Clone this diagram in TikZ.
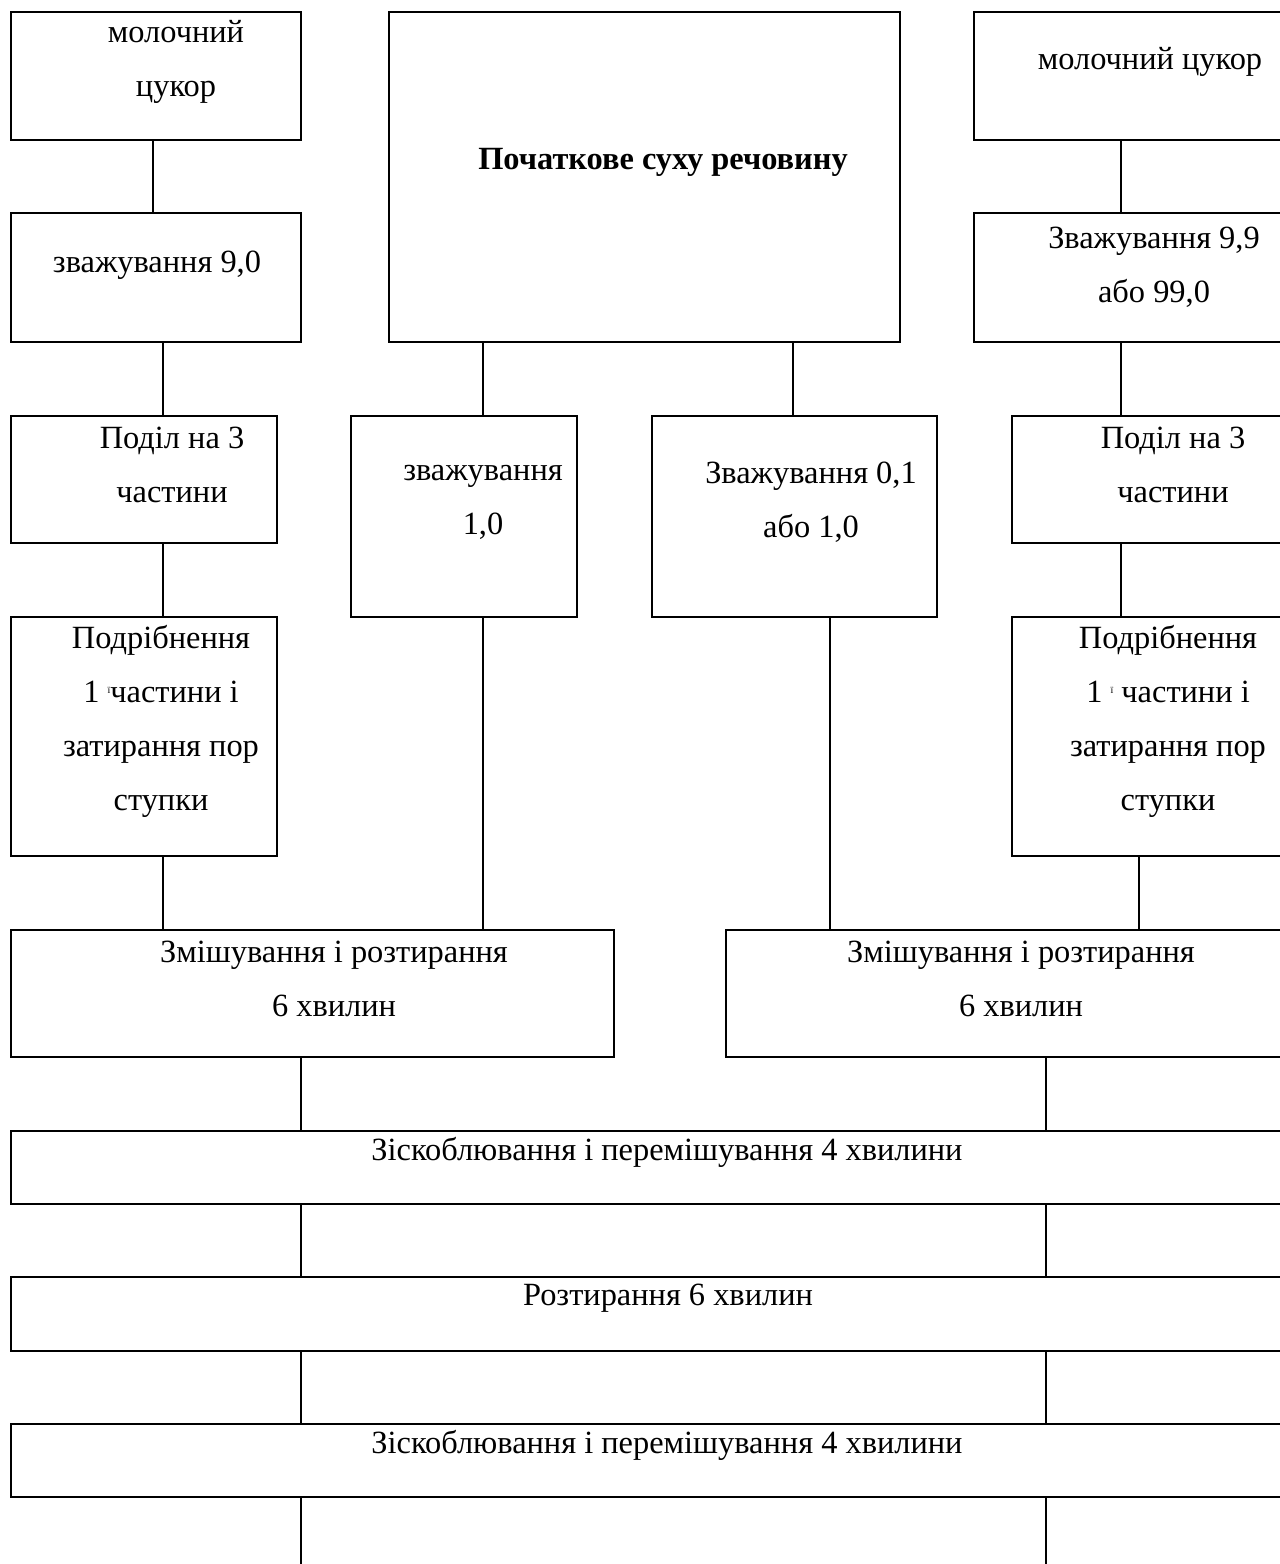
\documentclass[tikz,border=0pt]{standalone}
\usepackage{fontspec}
\setmainfont{Liberation Serif}
\newcommand{\supyi}{\raisebox{9pt}{\fontsize{10}{10}\selectfont ї}}
\begin{document}
\begin{tikzpicture}[x=1pt,y=-1pt,
  box/.style={draw, line width=1.6pt, anchor=north west, inner sep=0pt, outer sep=0pt},
  txt/.style={align=center, inner sep=0pt, font=\fontsize{32.4}{54}\selectfont},
  conn/.style={line width=1.6pt}]
\useasboundingbox (0,0) rectangle (1280,1564);
\clip (0,0) rectangle (1280,1564);
% boxes
\node[box, minimum width=290pt, minimum height=128pt] (A) at (11,12) {};
\node[box, minimum width=290pt, minimum height=129pt] (B) at (11,213) {};
\node[box, minimum width=511pt, minimum height=330pt] (C) at (389,12) {};
\node[box, minimum width=316pt, minimum height=128pt] (D) at (974,12) {};
\node[box, minimum width=316pt, minimum height=129pt] (E) at (974,213) {};
\node[box, minimum width=266pt, minimum height=127pt] (F) at (11,416) {};
\node[box, minimum width=226pt, minimum height=201pt] (G) at (351,416) {};
\node[box, minimum width=285pt, minimum height=201pt] (H) at (652,416) {};
\node[box, minimum width=278pt, minimum height=127pt] (I) at (1012,416) {};
\node[box, minimum width=266pt, minimum height=239pt] (J) at (11,617) {};
\node[box, minimum width=278pt, minimum height=239pt] (K) at (1012,617) {};
\node[box, minimum width=603pt, minimum height=127pt] (L) at (11,930) {};
\node[box, minimum width=564pt, minimum height=127pt] (M) at (726,930) {};
\node[box, minimum width=1279pt, minimum height=73pt] (N) at (11,1131) {};
\node[box, minimum width=1279pt, minimum height=74pt] (O) at (11,1277) {};
\node[box, minimum width=1279pt, minimum height=73pt] (P) at (11,1424) {};
% texts
\node[txt] (At) at (176,62) {молочний\\цукор};
\node[txt] (Bt) at (157,265) {зважування 9,0};
\node[txt, font=\fontsize{32.4}{54}\selectfont\bfseries] (Ct) at (663,162) {Початкове суху речовину};
\node[txt] (Dt) at (1150,62) {молочний цукор};
\node[txt] (Et) at (1154,267) {Зважування 9,9\\або 99,0};
\node[txt] (Ft) at (172,465) {Поділ на 3\\частини};
\node[txt] (Gt) at (483,502) {зважування\\1,0};
\node[txt] (Ht) at (811,502) {Зважування 0,1\\або 1,0};
\node[txt] (It) at (1173,465) {Поділ на 3\\частини};
\node[txt] (Jt) at (161,721) {Подрібнення\\1 \supyi частини і\\затирання пор\\ступки};
\node[txt] (Kt) at (1168,721) {Подрібнення\\1 \supyi{} частини і\\затирання пор\\ступки};
\node[txt] (Lt) at (334,979) {Змішування і розтирання\\6 хвилин};
\node[txt] (Mt) at (1021,979) {Змішування і розтирання\\6 хвилин};
\node[txt] (Nt) at (667,1152) {Зіскоблювання і перемішування 4 хвилини};
\node[txt] (Ot) at (668,1298) {Розтирання 6 хвилин};
\node[txt] (Pt) at (667,1445) {Зіскоблювання і перемішування 4 хвилини};
% connectors
\coordinate (endL) at (301,1564);
\coordinate (endR) at (1046,1564);
\draw[conn] (153,0 |- A.south) -- (153,0 |- B.north);
\draw[conn] (163,0 |- B.south) -- (163,0 |- F.north);
\draw[conn] (163,0 |- F.south) -- (163,0 |- J.north);
\draw[conn] (163,0 |- J.south) -- (163,0 |- L.north);
\draw[conn] (483,0 |- C.south) -- (483,0 |- G.north);
\draw[conn] (483,0 |- G.south) -- (483,0 |- L.north);
\draw[conn] (793,0 |- C.south) -- (793,0 |- H.north);
\draw[conn] (830,0 |- H.south) -- (830,0 |- M.north);
\draw[conn] (1121,0 |- D.south) -- (1121,0 |- E.north);
\draw[conn] (1121,0 |- E.south) -- (1121,0 |- I.north);
\draw[conn] (1121,0 |- I.south) -- (1121,0 |- K.north);
\draw[conn] (1139,0 |- K.south) -- (1139,0 |- M.north);
\draw[conn] (301,0 |- L.south) -- (301,0 |- N.north);
\draw[conn] (1046,0 |- M.south) -- (1046,0 |- N.north);
\draw[conn] (301,0 |- N.south) -- (301,0 |- O.north);
\draw[conn] (1046,0 |- N.south) -- (1046,0 |- O.north);
\draw[conn] (301,0 |- O.south) -- (301,0 |- P.north);
\draw[conn] (1046,0 |- O.south) -- (1046,0 |- P.north);
\draw[conn] (301,0 |- P.south) -- (endL);
\draw[conn] (1046,0 |- P.south) -- (endR);
\end{tikzpicture}
\end{document}
